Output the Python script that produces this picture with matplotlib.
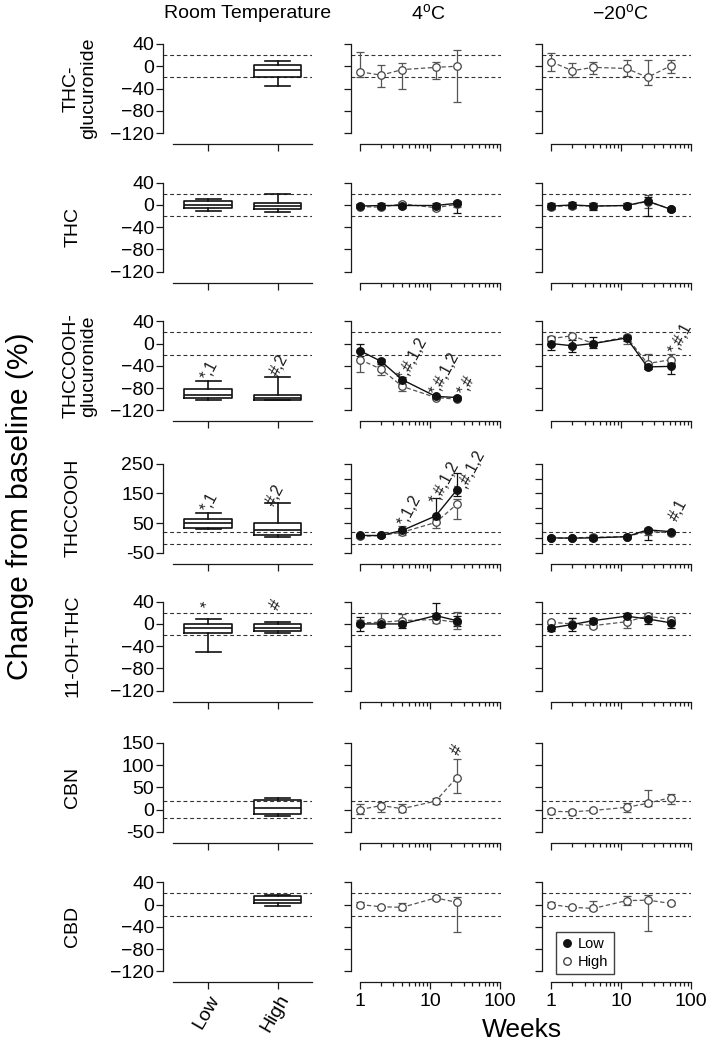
import matplotlib
matplotlib.use('Agg')
import matplotlib.pyplot as plt
from matplotlib.lines import Line2D
from matplotlib.ticker import FixedLocator, NullFormatter, FixedFormatter

plt.rcParams['font.family'] = ['Liberation Sans', 'DejaVu Sans']
plt.rcParams['mathtext.fontset'] = 'custom'
plt.rcParams['mathtext.rm'] = 'Liberation Sans'

# ---------------- data ----------------
analytes = ['THC-\nglucuronide', 'THC', 'THCCOOH-\nglucuronide', 'THCCOOH',
            '11-OH-THC', 'CBN', 'CBD']
col_titles = ['Room Temperature', '4$^{\\mathregular{o}}$C', '\u221220$^{\\mathregular{o}}$C']
box_groups = ['Low', 'High']
weeks_4c = [1, 2, 4, 12, 24]
weeks_m20 = [1, 2, 4, 12, 24, 52]
week_ticks = [1, 10, 100]
week_labels = ['1', '10', '100']

# y axis ticks (value lists and label lists) per analyte
yt_std = [40, 0, -40, -80, -120]
yl_std = ['40', '0', '\u221240', '\u221280', '\u2212120']
yt_cooh = [250, 150, 50, -50]
yl_cooh = ['250', '150', '50', '-50']
yt_cooh_all = [250, 200, 150, 100, 50, 0, -50]
yt_cbn = [150, 100, 50, 0, -50]
yl_cbn = ['150', '100', '50', '0', '-50']
ref_lines = [20, -20]

# room temperature boxes: (whislo, q1, med, q3, whishi), None = not shown
rt_low = [None, (-10, -5, 0, 7, 11), (-101, -97, -92, -81, -67), (31, 34, 50, 62, 85),
          (-50, -16, -7, 0, 9), None, None]
rt_high = [(-35, -20, -7, 2, 10), (-13, -7, -1, 3, 20), (-102, -101, -97, -92, -60),
           (3.5, 10, 28, 51, 118), (-16, -12, -7, 0, 3), (-14, -11, 4, 22, 25.7),
           (-3, 2, 9, 15, 17)]

# 4 degC series (weeks 1,2,4,12,24): mean, error-bar top, error-bar bottom
c4_low = [None, [-2, -1, -1, -1, 3], [-13, -32, -65, -95, -97], [8, 8, 25, 74, 161],
          [0, 0, 0, 15, 6], None, None]
c4_low_top = [None, [2, 3, 3, 3, 8], [0, -28, -61, -93, -95], [14, 13, 33, 133, 220],
              [12, 6, 7, 38, 15], None, None]
c4_low_bot = [None, [-6, -5, -5, -5, -15], [-22, -36, -69, -97, -99], [3, 4, 18, 50, 140],
              [-12, -6, -7, 5, -3], None, None]
c4_high = [[-10, -16, -6, -2, 0], [-3, -4, 2, -5, 1], [-29, -46, -77, -97, -100],
           [5, 8, 19, 52, 113], [2, 3, 6, 8, 3], [0, 9, 2, 19, 72], [0, -4, -5, 12, 4]]
c4_high_top = [[26, 2, 5, 7, 30], [1, 0, 6, 0, 5], [-15, -40, -72, -95, -98],
               [10, 12, 41, 62, 130], [8, 19, 18, 14, 22], [13, 17, 13, 25, 113],
               [4, -2, 2, 16, 14]]
c4_high_bot = [[-20, -38, -40, -23, -65], [-6, -8, -2, -9, -3], [-51, -57, -86, -99, -102],
               [0, 4, 8, 33, 64], [-4, -6, -4, 2, -9], [-10, -6, -6, 12, 38],
               [-5, -6, -10, 8, -50]]

# -20 degC series (weeks 1,2,4,12,24,52)
m20_low = [None, [-2, 0, -2, -1, 7, -8], [0, -4, 0, 10, -42, -41], [0, -1, 0, 4, 27, 21],
           [-7, -1, 6, 14, 9, 2], None, None]
m20_low_top = [None, [3, 5, 4, 3, 15, -5], [12, 6, 12, 14, -36, -35], [5, 3, 8, 8, 34, 24],
               [-3, 10, 10, 20, 18, 6], None, None]
m20_low_bot = [None, [-7, -5, -9, -5, -20, -11], [-11, -15, -8, 4, -46, -55],
               [-4, -4, -8, 0, -8, 17], [-12, -12, 2, 8, 0, -7], None, None]
m20_high = [[8, -8, -2, -4, -20, 1], [-3, -1, -2, -1, 6, -7], [9, 14, 0, 12, -36, -29],
            [-1, 0, 2, 4, 22, 17], [3, 0, -3, 4, 14, 8], [-4, -5, -2, 5, 14, 27],
            [0, -5, -7, 7, 8, 2]]
m20_high_top = [[23, 6, 7, 12, 12, 12], [2, 3, 3, 4, 18, -4], [14, 18, 5, 16, -18, -19],
                [3, 3, 6, 7, 30, 22], [6, 10, 1, 12, 20, 12], [2, 0, 2, 14, 45, 35],
                [4, -3, 7, 15, 17, 5]]
m20_high_bot = [[-8, -19, -14, -18, -34, -13], [-7, -5, -7, -5, -6, -10],
                [4, 10, -5, 0, -45, -37], [-5, -3, -3, 1, 10, 12], [0, -6, -7, -7, 8, 2],
                [-10, -13, -6, -6, 8, 13], [-5, -7, -9, -1, -48, -1]]

# significance marks: (row, x, y, text)
ann_rt = [(2, 0.95, -64, '*,1'), (2, 1.95, -57, '#,2'), (3, 0.95, 90, '*,1'),
          (3, 1.9, 110, '#,2'), (4, 0.96, 27, '*'), (4, 1.94, 27, '#')]
ann_4c = [(2, 4, -63, '*,#,1,2'), (2, 11.5, -90, '*,#,1,2'), (2, 29, -90, '*,#'),
          (3, 4, 44, '*,1,2'), (3, 11.5, 117, '*,#,1,2'), (3, 27, 154, '*,#,1,2'),
          (5, 22.5, 126, '#')]
ann_m20 = [(2, 56, -17, '*,#,1'), (3, 56, 61, '#,1')]

# ---------------- layout ----------------
W, H = 710, 1044
fig = plt.figure(figsize=(W / 100, H / 100), dpi=100)
row_top = [44, 182.7, 321.3, 463.7, 601.7, 742.8, 882.3]
col_lr = [(163, 312.4), (350.5, 500.5), (541.7, 691)]
col_xlim = [(0.352, 2.5), (0.731, 101), (0.727, 101)]
SPINE = '#1a1a1a'
HIGHC = '#555555'
MS = 5.4


def yspec(r):
    if r == 3:
        return yt_cooh, yl_cooh, yt_cooh_all
    if r == 5:
        return yt_cbn, yl_cbn, yt_cbn
    return yt_std, yl_std, yt_std


def make_ax(r, c):
    T = row_top[r]
    l, rr = col_lr[c]
    top_px, bot_px = T - 4, T + 93
    ax = fig.add_axes([l / W, 1 - bot_px / H, (rr - l) / W, (bot_px - top_px) / H])
    ax.patch.set_alpha(0)
    yt, yl, yt_all = yspec(r)
    vt, vb = max(yt), min(yt)
    k = (vt - vb) / 89.0
    ax.set_ylim(vb - 4 * k, vt + 4 * k)
    for s in ['top', 'right']:
        ax.spines[s].set_visible(False)
    ax.spines['left'].set_bounds(vb, vt)
    ax.spines['bottom'].set_position(('outward', 7 * 0.72))
    for s in ['left', 'bottom']:
        ax.spines[s].set_color(SPINE)
        ax.spines[s].set_linewidth(0.9)
    ax.tick_params(axis='both', which='both', color=SPINE, width=0.9)
    ax.tick_params(axis='y', length=5, pad=1.5, labelsize=14)
    if c == 0:
        ax.yaxis.set_major_locator(FixedLocator(yt))
        ax.yaxis.set_major_formatter(FixedFormatter(yl))
        ax.set_xlim(*col_xlim[0])
        ax.spines['bottom'].set_bounds(0.5, 2.5)
        ax.set_xticks([1, 2])
        ax.tick_params(axis='x', length=5, pad=2)
        if r == 6:
            ax.set_xticklabels(box_groups, rotation=60, ha='right', va='top',
                               rotation_mode='anchor', fontsize=14)
        else:
            ax.set_xticklabels(['', ''])
    else:
        ax.yaxis.set_major_locator(FixedLocator(yt_all))
        ax.yaxis.set_major_formatter(NullFormatter())
        ax.set_xscale('log')
        ax.set_xlim(*col_xlim[c])
        ax.spines['bottom'].set_bounds(1, 100)
        ax.xaxis.set_major_locator(FixedLocator(week_ticks))
        ax.xaxis.set_minor_locator(FixedLocator([2, 3, 4, 5, 6, 7, 8, 9,
                                                 20, 30, 40, 50, 60, 70, 80, 90]))
        ax.xaxis.set_minor_formatter(NullFormatter())
        ax.tick_params(axis='x', which='major', length=5, pad=3, labelsize=14)
        ax.tick_params(axis='x', which='minor', length=3)
        if r == 6:
            ax.xaxis.set_major_formatter(FixedFormatter(week_labels))
        else:
            ax.xaxis.set_major_formatter(NullFormatter())
    for v in ref_lines:
        ax.axhline(v, color='#333333', lw=0.8, ls=(0, (3.5, 2.5)), zorder=1)
    return ax


def box_stats(t):
    return dict(whislo=t[0], q1=t[1], med=t[2], q3=t[3], whishi=t[4], fliers=[])


def draw_series(ax, x, mean, top, bot, filled):
    if mean is None:
        return
    lo = [m - b for m, b in zip(mean, bot)]
    hi = [t - m for m, t in zip(mean, top)]
    if filled:
        ax.errorbar(x, mean, yerr=[lo, hi], fmt='none', ecolor='#111111', elinewidth=0.9,
                    capsize=2.6, capthick=0.9, zorder=4)
        ax.plot(x, mean, '-', color='#111111', lw=1.0, marker='o', ms=MS,
                mfc='#111111', mec='#111111', zorder=6)
    else:
        ax.errorbar(x, mean, yerr=[lo, hi], fmt='none', ecolor=HIGHC, elinewidth=0.9,
                    capsize=2.6, capthick=0.9, zorder=3)
        ax.plot(x, mean, color=HIGHC, lw=0.9, ls=(0, (3.5, 2)), marker='o', ms=MS,
                mfc='white', mec='#444444', mew=0.9, zorder=5)


ANN_KW = dict(rotation=62, rotation_mode='anchor', ha='left', va='center',
              fontsize=11.5, color='#1a1a1a')

for r in range(7):
    # room temperature
    ax = make_ax(r, 0)
    stats, pos = [], []
    if rt_low[r] is not None:
        stats.append(box_stats(rt_low[r])); pos.append(1)
    if rt_high[r] is not None:
        stats.append(box_stats(rt_high[r])); pos.append(2)
    lp = dict(color='#111111', linewidth=1.2)
    ax.bxp(stats, positions=pos, widths=0.68, capwidths=0.36, showfliers=False,
           boxprops=lp, medianprops=lp, whiskerprops=lp, capprops=lp, manage_ticks=False)
    for (ar, x, y, t) in ann_rt:
        if ar == r:
            ax.text(x, y, t, **ANN_KW)

    # 4 degC
    ax = make_ax(r, 1)
    draw_series(ax, weeks_4c, c4_high[r], c4_high_top[r], c4_high_bot[r], False)
    draw_series(ax, weeks_4c, c4_low[r], c4_low_top[r], c4_low_bot[r], True)
    for (ar, x, y, t) in ann_4c:
        if ar == r:
            ax.text(x, y, t, **ANN_KW)

    # -20 degC
    ax = make_ax(r, 2)
    draw_series(ax, weeks_m20, m20_high[r], m20_high_top[r], m20_high_bot[r], False)
    draw_series(ax, weeks_m20, m20_low[r], m20_low_top[r], m20_low_bot[r], True)
    for (ar, x, y, t) in ann_m20:
        if ar == r:
            ax.text(x, y, t, **ANN_KW)
    if r == 6:
        handles = [Line2D([], [], ls='none', marker='o', ms=MS, mfc='#111111', mec='#111111'),
                   Line2D([], [], ls='none', marker='o', ms=MS, mfc='white', mec='#444444')]
        leg = ax.legend(handles, box_groups, loc='upper left', bbox_to_anchor=(0.093, 0.445),
                        borderaxespad=0, frameon=True, fancybox=False, fontsize=10.5,
                        handlelength=0.8, handletextpad=0.4, borderpad=0.35,
                        labelspacing=0.25)
        leg.get_frame().set_edgecolor('#111111')
        leg.get_frame().set_linewidth(1.0)

    # row label
    T = row_top[r]
    xl = 80 if '\n' in analytes[r] else 73
    fig.text(xl / W, 1 - (T + 44.5) / H, analytes[r], rotation=90, ha='center',
             va='center', fontsize=14, linespacing=1.0)

# column titles
for c, (xc, t) in enumerate(zip([248, 428, 620], col_titles)):
    fig.text(xc / W, 1 - 14 / H, t, ha='center', va='center', fontsize=14)

fig.text(20 / W, 1 - 506 / H, 'Change from baseline (%)', rotation=90, ha='center',
         va='center', fontsize=21.5)
fig.text(522 / W, 1 - 1030 / H, 'Weeks', ha='center', va='center', fontsize=19)

fig.savefig('out.png', dpi=100)
